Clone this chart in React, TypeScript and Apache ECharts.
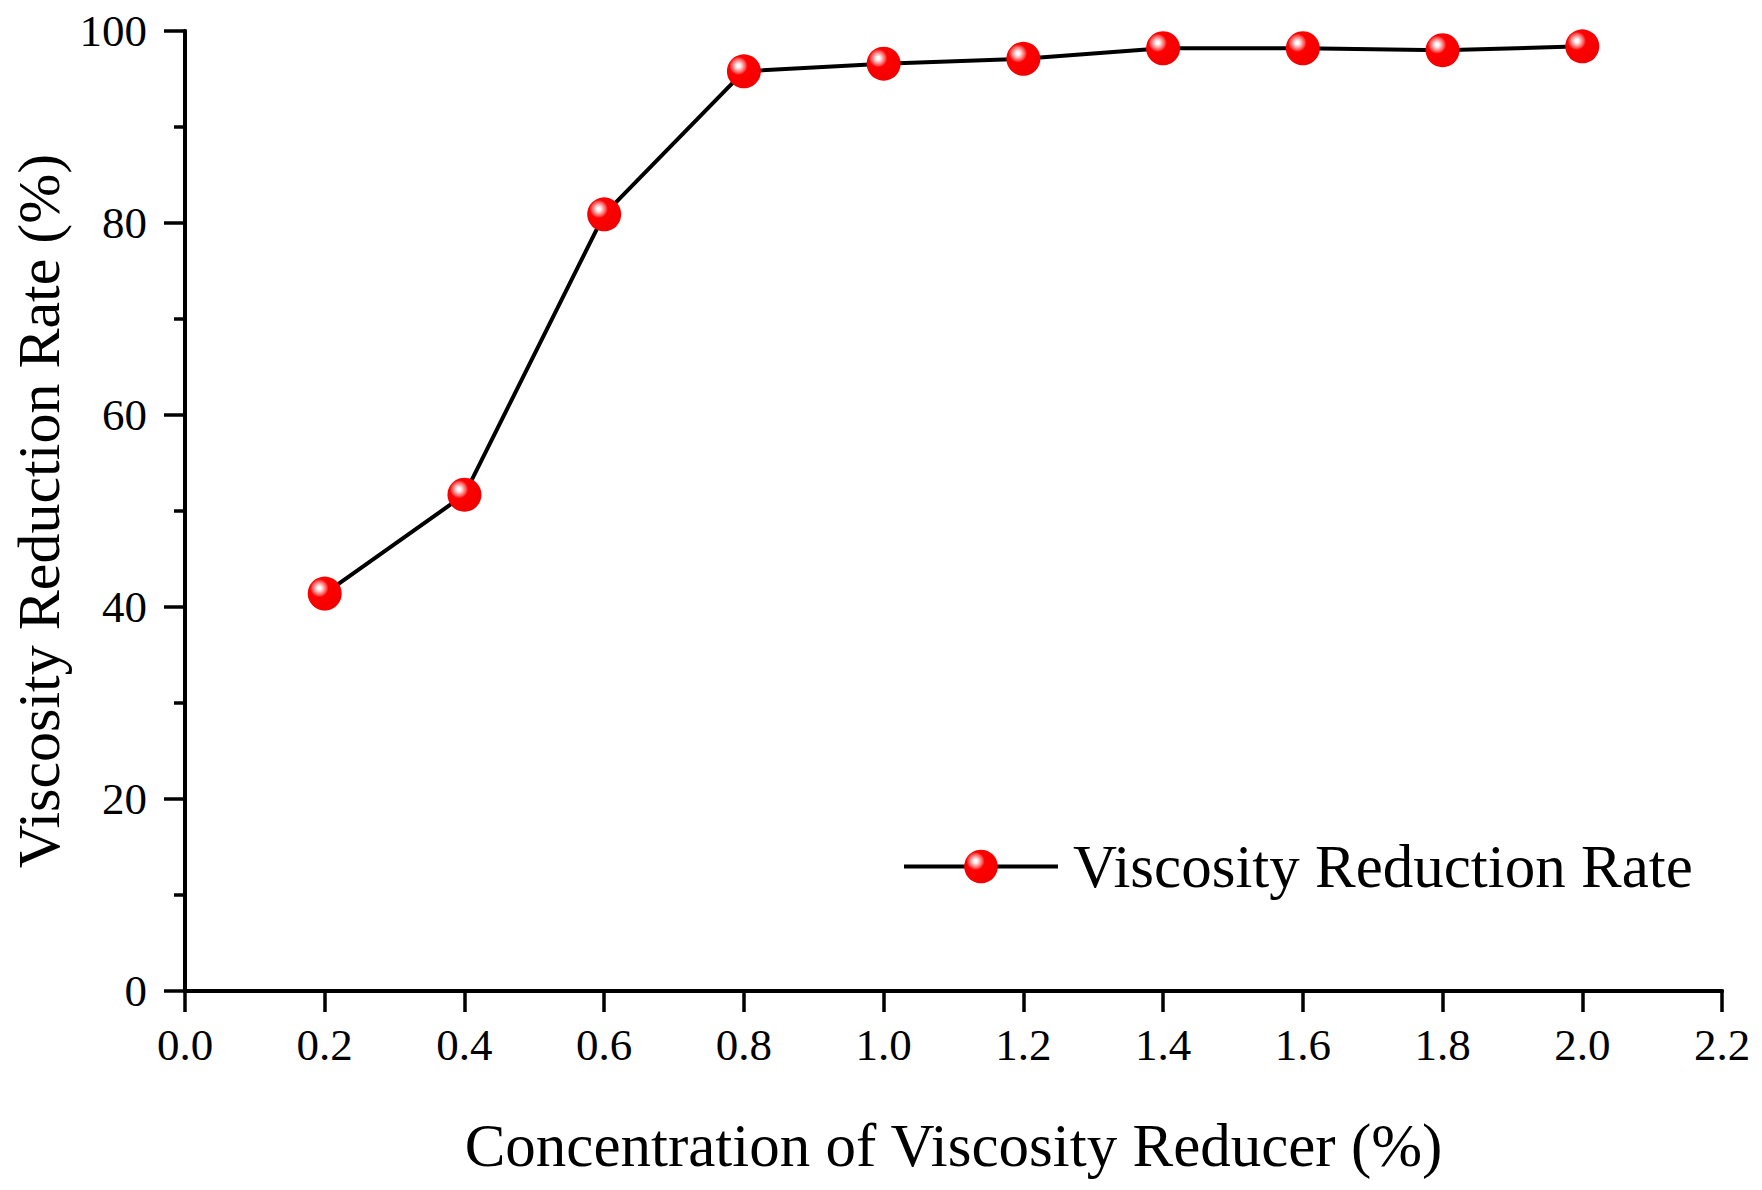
import React, { useEffect, useRef } from 'react';
import * as echarts from 'echarts';

// concentration of viscosity reducer (%)
const concentrations = [0.2, 0.4, 0.6, 0.8, 1.0, 1.2, 1.4, 1.6, 1.8, 2.0];
// viscosity reduction rate (%)
const reductionRate = [41.4, 51.7, 80.9, 95.8, 96.6, 97.1, 98.2, 98.2, 98.0, 98.4];

const seriesName = 'Viscosity Reduction Rate';
const xTitle = 'Concentration of Viscosity Reducer (%)';
const yTitle = 'Viscosity Reduction Rate (%)';

const FONT = '"Liberation Serif", "Times New Roman", serif';

const sphere = {
  type: 'radial',
  x: 0.34,
  y: 0.34,
  r: 0.75,
  colorStops: [
    { offset: 0, color: '#ffffff' },
    { offset: 0.06, color: '#ffffff' },
    { offset: 0.16, color: '#ffb3b3' },
    { offset: 0.28, color: '#ff5050' },
    { offset: 0.36, color: '#ff0000' },
    { offset: 1, color: '#f00000' },
  ],
};

const App = () => {
  const chartRef = useRef<HTMLDivElement>(null);

  useEffect(() => {
    if (!chartRef.current) return;
    document.body.style.margin = '0';

    const chart = echarts.init(chartRef.current, null, { renderer: 'svg' });

    const axisLine = { show: true, lineStyle: { color: '#000', width: 4 } };

    chart.setOption({
      animation: false,
      backgroundColor: '#fff',
      grid: {
        left: 185,
        right: 40,
        top: 31,
        bottom: 199,
        containLabel: false,
        outerBoundsMode: 'none',
      },
      legend: {
        data: [seriesName],
        left: 902,
        top: 836,
        padding: 0,
        itemWidth: 154,
        itemHeight: 42,
        lineStyle: { color: '#000', width: 4 },
        textStyle: {
          fontFamily: FONT,
          fontSize: 61,
          color: '#000',
          padding: [0, 0, 0, 10],
        },
      },
      xAxis: [
        {
          type: 'value',
          min: 0,
          max: 2.2,
          interval: 0.2,
          name: xTitle,
          nameLocation: 'middle',
          nameGap: 124,
          nameTextStyle: { fontFamily: FONT, fontSize: 61, color: '#000' },
          axisLine,
          axisTick: { show: true, inside: false, length: 21, lineStyle: { width: 3.5, color: '#000' } },
          axisLabel: {
            margin: 31,
            fontFamily: FONT,
            fontSize: 45,
            color: '#000',
            formatter: (v: number) => v.toFixed(1),
          },
          splitLine: { show: false },
        },
        {
          type: 'value',
          position: 'top',
          min: 0,
          max: 2.2,
          axisLine,
          axisTick: { show: false },
          axisLabel: { show: false },
          splitLine: { show: false },
        },
      ],
      yAxis: [
        {
          type: 'value',
          min: 0,
          max: 100,
          interval: 20,
          name: yTitle,
          nameLocation: 'middle',
          nameGap: 116,
          nameTextStyle: { fontFamily: FONT, fontSize: 60, color: '#000' },
          axisLine,
          axisTick: { show: true, inside: false, length: 21, lineStyle: { width: 3.5, color: '#000' } },
          minorTick: { show: true, splitNumber: 2, length: 11, lineStyle: { width: 3.5, color: '#000' } },
          axisLabel: { margin: 38, fontFamily: FONT, fontSize: 45, color: '#000' },
          splitLine: { show: false },
        },
        {
          type: 'value',
          position: 'right',
          min: 0,
          max: 100,
          axisLine,
          axisTick: { show: false },
          axisLabel: { show: false },
          splitLine: { show: false },
        },
      ],
      series: [
        {
          name: seriesName,
          type: 'line',
          data: concentrations.map((c, i) => [c, reductionRate[i]]),
          symbol: 'circle',
          symbolSize: 34,
          showSymbol: true,
          itemStyle: { color: sphere as any },
          lineStyle: { color: '#000', width: 4 },
          z: 3,
        },
      ],
    });

    return () => {
      chart.dispose();
    };
  }, []);

  return <div ref={chartRef} style={{ width: '1762px', height: '1190px' }}></div>;
};

export default App;
